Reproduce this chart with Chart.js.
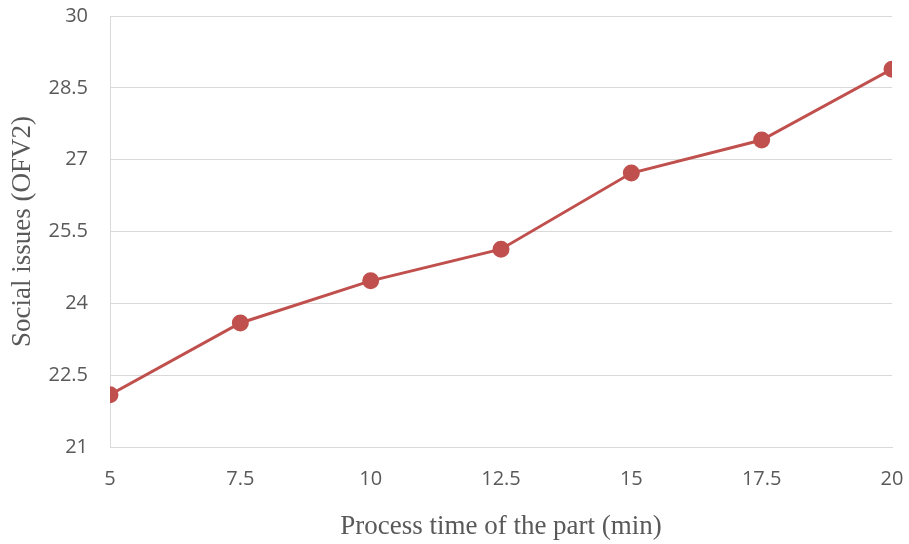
<!DOCTYPE html>
<html>
<head>
<meta charset="utf-8">
<script src="https://cdn.jsdelivr.net/npm/chart.js@4/dist/chart.umd.min.js"></script>
<style>
  html, body { margin: 0; padding: 0; background: #fff; }
  #wrap { width: 909px; height: 544px; }
</style>
</head>
<body>
<div id="wrap"><canvas id="lineChart"></canvas></div>
<script>
// --- Data ---
const processTimes = [5, 7.5, 10, 12.5, 15, 17.5, 20];
const socialIssues = [22.09, 23.59, 24.47, 25.13, 26.72, 27.41, 28.89];

const xTitle = "Process time of the part (min)";
const yTitle = "Social issues (OFV2)";

const lineColor = "#C0504D";
const textColor = "#595959";

const tickFont = { family: "'Open Sans', 'Liberation Sans', sans-serif", size: 20 };
const titleFont = { family: "'Liberation Serif', 'Times New Roman', serif", size: 27, lineHeight: 1 };

// --- Chart ---
const ctx = document.getElementById("lineChart").getContext("2d");
new Chart(ctx, {
  type: "line",
  data: {
    datasets: [
      {
        label: yTitle,
        data: processTimes.map((x, i) => ({ x: x, y: socialIssues[i] })),
        borderColor: lineColor,
        backgroundColor: lineColor,
        borderWidth: 3,
        pointRadius: 7,
        pointHoverRadius: 7,
        tension: 0,
      },
    ],
  },
  options: {
    responsive: true,
    maintainAspectRatio: false,
    animation: false,
    layout: { padding: { left: 0, right: 17, top: 16, bottom: 0 } },
    plugins: {
      legend: { display: false },
      tooltip: { enabled: false },
    },
    scales: {
      x: {
        type: "linear",
        min: 5,
        max: 20,
        afterFit: (scale) => {
          scale.height = 97;
          scale.paddingTop = 0;
          scale.paddingRight = 0;
          scale.paddingLeft = 0;
        },
        ticks: {
          stepSize: 2.5,
          color: textColor,
          font: tickFont,
          padding: 20,
          maxRotation: 0,
        },
        grid: { display: false, drawTicks: false },
        border: { display: true, color: "#D9D9D9", width: 1 },
        title: {
          display: true,
          text: xTitle,
          color: textColor,
          font: titleFont,
          padding: { top: 0, bottom: 4 },
        },
      },
      y: {
        min: 21,
        max: 30,
        afterFit: (scale) => {
          scale.width = 110;
          scale.paddingTop = 0;
          scale.paddingBottom = 0;
        },
        ticks: {
          stepSize: 1.5,
          color: textColor,
          font: tickFont,
          padding: 22,
        },
        grid: { color: "#D9D9D9", lineWidth: 1, drawTicks: false },
        border: { display: true, color: "#D9D9D9", width: 1 },
        title: {
          display: true,
          text: yTitle,
          color: textColor,
          font: titleFont,
          padding: { top: 9, bottom: 0 },
        },
      },
    },
  },
});
</script>
</body>
</html>
